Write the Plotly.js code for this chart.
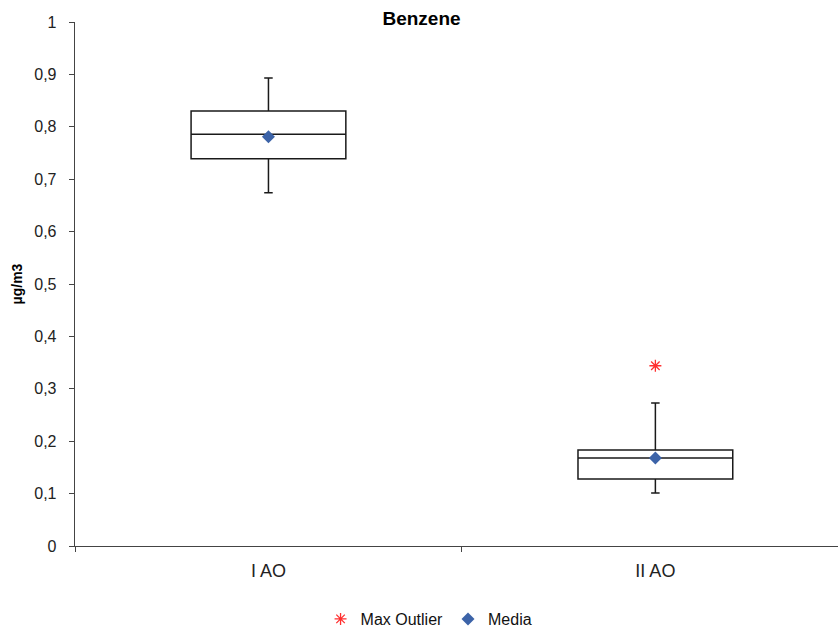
<!DOCTYPE html>
<html>
<head>
<meta charset="utf-8">
<script src="https://cdn.plot.ly/plotly-3.0.1.min.js"></script>
<style>html,body{margin:0;padding:0;background:#fff;}#chart{width:838px;height:630px;}</style>
</head>
<body>
<div id="chart"></div>
<script>
var categories = ["I AO", "II AO"];
var q1Values = [0.739, 0.128];
var medianValues = [0.786, 0.168];
var q3Values = [0.830, 0.183];
var lowerWhisker = [0.674, 0.101];
var upperWhisker = [0.893, 0.273];
var meanValues = [0.781, 0.168];
var outlierCategories = ["II AO"];
var outlierValues = [0.344];

var font = "Liberation Sans, Arial, sans-serif";

var traces = [
  {
    type: "box",
    x: categories,
    q1: q1Values,
    median: medianValues,
    q3: q3Values,
    lowerfence: lowerWhisker,
    upperfence: upperWhisker,
    width: 0.4,
    whiskerwidth: 0.055,
    fillcolor: "rgba(255,255,255,0)",
    line: {color: "#1a1a1a", width: 1.5},
    showlegend: false,
    hoverinfo: "skip"
  },
  {
    type: "scatter",
    mode: "markers",
    name: "Max Outlier",
    x: outlierCategories,
    y: outlierValues,
    marker: {symbol: "asterisk-open", size: 10, color: "#ff3030", line: {color: "#ff3030", width: 1.3}}
  },
  {
    type: "scatter",
    mode: "markers",
    name: "Media",
    x: categories,
    y: meanValues,
    marker: {symbol: "diamond", size: 10, color: "#3c63a8"}
  }
];

var layout = {
  width: 838,
  height: 630,
  margin: {l: 75, r: 0, t: 22, b: 84},
  paper_bgcolor: "#ffffff",
  plot_bgcolor: "#ffffff",
  separators: ",.",
  font: {family: font, color: "#222222", size: 16},
  title: {
    text: "<b>Benzene</b>",
    font: {family: font, size: 19, color: "#000000"},
    x: 0.503, xref: "container", xanchor: "center",
    y: 1 - 18 / 630, yref: "container", yanchor: "middle"
  },
  xaxis: {
    type: "category",
    categoryorder: "array",
    categoryarray: categories,
    range: [-0.5, 1.472],
    showline: true,
    linecolor: "#444444",
    linewidth: 1.3,
    ticks: "outside",
    tickson: "boundaries",
    ticklen: 5,
    tickcolor: "#444444",
    ticklabelstandoff: 8,
    showgrid: false,
    zeroline: false,
    tickfont: {family: font, size: 18, color: "#222222"},
    fixedrange: true
  },
  yaxis: {
    range: [0, 1],
    dtick: 0.1,
    tick0: 0,
    showline: true,
    linecolor: "#444444",
    linewidth: 1.3,
    ticks: "outside",
    ticklen: 5,
    tickcolor: "#444444",
    ticklabelstandoff: 9,
    showgrid: false,
    zeroline: false,
    tickfont: {family: font, size: 16, color: "#222222"},
    title: {text: "<b>µg/m3</b>", font: {family: font, size: 14, color: "#000000"}, standoff: 8},
    fixedrange: true
  },
  showlegend: true,
  legend: {
    orientation: "h",
    x: 0.512, xanchor: "center", xref: "container",
    y: 11 / 630, yref: "container", yanchor: "middle",
    font: {family: font, size: 16, color: "#111111"},
    itemwidth: 30,
    tracegroupgap: 0
  }
};

Plotly.newPlot("chart", traces, layout, {displayModeBar: false, staticPlot: true});
</script>
</body>
</html>
